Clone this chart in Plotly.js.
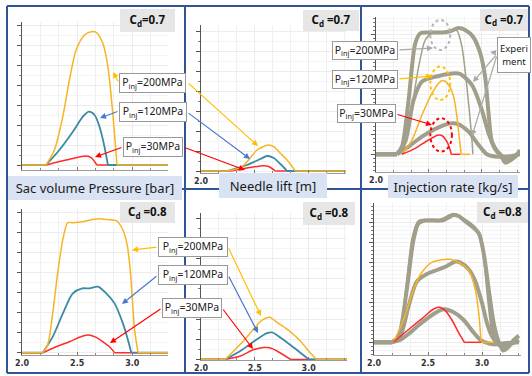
<!DOCTYPE html>
<html><head><meta charset="utf-8">
<script src="https://cdn.plot.ly/plotly-3.0.1.min.js"></script>
<style>html,body{margin:0;padding:0;background:#fff}#chart{width:532px;height:376px}</style>
</head><body><div id="chart"></div>
<script>
// ---- data (time [ms] vs. relative amplitude) ----
const xTickVals = [2.0, 2.5, 3.0];
const xTickText = ['2.0', '2.5', '3.0'];
const xTickTextTop = ['2.0', '', ''];
const pLabels = ['P<sub>inj</sub>=200MPa', 'P<sub>inj</sub>=120MPa', 'P<sub>inj</sub>=30MPa'];
const panelTitles = ['Sac volume Pressure [bar]', 'Needle lift [m]', 'Injection rate [kg/s]'];
const cdLabels = ['C<sub>d</sub>=0.7', 'C<sub>d</sub> =0.7', 'C<sub>d</sub> =0.7', 'C<sub>d</sub> =0.8', 'C<sub>d</sub> =0.8', 'C<sub>d</sub> =0.8'];
const expLabel = 'Experi<br>ment';

// top-left: sac pressure, Cd 0.7
const tl_t_200 = [2.0, 2.218, 2.294, 2.37, 2.43, 2.491, 2.567, 2.627, 2.673, 2.733, 2.779, 2.809, 2.839, 2.861, 3.324];
const tl_v_200 = [0, 0, 15, 48.3, 85, 115, 130, 133.3, 132.7, 121.7, 98.3, 68.3, 31.7, 0, 0];
const tl_t_120 = [2.0, 2.218, 2.339, 2.461, 2.552, 2.606, 2.658, 2.703, 2.748, 2.779, 3.324];
const tl_v_120 = [0, 0, 15, 33.3, 48.3, 53.3, 50, 38.3, 18.3, 0, 0];
const tl_t_30 = [2.0, 2.218, 2.4, 2.582, 2.627, 2.679, 3.324];
const tl_v_30 = [0, 0, 5, 9, 7.3, 0, 0];

// top-middle: needle lift, Cd 0.7
const tm_t_200 = [2.0, 2.241, 2.381, 2.52, 2.598, 2.628, 2.675, 2.737, 2.799, 2.876, 3.346];
const tm_v_200 = [0, 0, 4.3, 21, 25.3, 26, 24.3, 17.7, 11, 0, 0];
const tm_t_120 = [2.0, 2.241, 2.427, 2.551, 2.613, 2.675, 2.737, 2.799, 3.346];
const tm_v_120 = [0, 0, 6, 12, 15, 13, 7, 0, 0];
const tm_t_30 = [2.0, 2.272, 2.427, 2.582, 2.628, 2.69, 3.346];
const tm_v_30 = [0, 0, 3, 5.3, 4.5, 0, 0];

// top-right: injection rate, Cd 0.7
const tr_t_exp200 = [2.0, 2.198, 2.245, 2.308, 2.371, 2.418, 2.528, 2.654, 2.717, 2.777, 2.843, 2.918, 2.984, 3.031, 3.06, 3.097, 3.142, 3.173, 3.22, 3.267, 3.314, 3.36];
const tr_v_exp200 = [0, 0, 7.7, 54.3, 111, 121, 121.7, 122, 123.7, 126.3, 124.3, 117.3, 101.3, 77.3, 44.3, 11.3, 2.7, 0, -8.3, -6.3, -2.3, 4.3];
const tr_t_exp120 = [2.0, 2.198, 2.277, 2.355, 2.434, 2.591, 2.748, 2.796, 2.906, 3.0, 3.063, 3.126, 3.189, 3.252, 3.314, 3.36];
const tr_v_exp120 = [0, 0, 12.7, 54.3, 72.7, 78.3, 81, 80.3, 69.3, 44.3, 21, 6, -1.7, -5, -2.3, 2.7];
const tr_t_exp30 = [2.0, 2.198, 2.308, 2.434, 2.591, 2.717, 2.78, 2.874, 2.969, 3.047, 3.126, 3.204, 3.283, 3.36];
const tr_v_exp30 = [0, 0, 7.7, 17.7, 27, 31, 30, 22.7, 9.3, 0, -2.3, -2.3, -1.7, 0];
const tr_t_sim200 = [2.214, 2.277, 2.34, 2.403, 2.465, 2.528, 2.623, 2.717, 2.764, 2.811, 2.858, 2.906, 2.915];
const tr_v_sim200 = [0, 14.3, 47.7, 87.7, 114.3, 121, 122, 123.7, 123.7, 107.7, 67.7, 14.3, 0];
const tr_t_sim120 = [2.245, 2.34, 2.434, 2.528, 2.607, 2.638, 2.686, 2.733, 2.764, 2.789, 2.805, 2.89];
const tr_v_sim120 = [0, 14.3, 39.3, 61, 72.7, 73.7, 69.3, 57.7, 37.7, 14.3, 0, 0];
const tr_t_sim30 = [2.245, 2.371, 2.497, 2.591, 2.629, 2.67, 2.701, 2.711, 2.796];
const tr_v_sim30 = [0, 6, 14.3, 19.3, 18.3, 12.7, 4.3, 0, 0];

// bottom-left: sac pressure, Cd 0.8
const bl_t_200 = [2.0, 2.188, 2.233, 2.279, 2.324, 2.37, 2.415, 2.461, 2.552, 2.642, 2.703, 2.794, 2.855, 2.915, 2.955, 2.982, 3.0, 3.021, 3.052, 3.324];
const bl_v_200 = [0, 0, 8, 40, 80, 113, 130, 130, 131, 133.3, 134, 132.7, 132, 122.7, 107, 82, 55, 23, 0, 0];
const bl_t_120 = [2.0, 2.188, 2.279, 2.37, 2.461, 2.545, 2.612, 2.688, 2.764, 2.839, 2.915, 2.961, 2.991, 3.324];
const bl_v_120 = [0, 0, 16, 39, 59.3, 64.3, 64.3, 66, 59.3, 49.3, 29.3, 12.7, 0, 0];
const bl_t_30 = [2.0, 2.188, 2.309, 2.43, 2.552, 2.606, 2.673, 2.733, 2.794, 2.839, 3.324];
const bl_v_30 = [0, 0, 6, 11, 16.7, 17.7, 15.3, 11, 6, 0, 0];

// bottom-middle: needle lift, Cd 0.8
const bm_t_200 = [2.0, 2.226, 2.365, 2.489, 2.567, 2.638, 2.706, 2.799, 2.923, 3.0, 3.071, 3.356];
const bm_v_200 = [0, 0, 15, 30, 39, 41.7, 36.7, 30, 18.3, 8.3, 0, 0];
const bm_t_120 = [2.0, 2.226, 2.365, 2.52, 2.613, 2.659, 2.737, 2.861, 3.0, 3.356];
const bm_v_120 = [0, 0, 8.3, 20, 26, 26.7, 21.7, 11.7, 0, 0];
const bm_t_30 = [2.0, 2.226, 2.365, 2.474, 2.582, 2.628, 2.706, 2.83, 3.356];
const bm_v_30 = [0, 0, 3.3, 9, 11.7, 11.7, 8.3, 0, 0];

// bottom-right: injection rate, Cd 0.8
const br_t_exp200 = [2.0, 2.164, 2.226, 2.303, 2.365, 2.412, 2.474, 2.613, 2.659, 2.737, 2.783, 2.83, 2.907, 2.969, 3.015, 3.062, 3.108, 3.155, 3.195, 3.232, 3.294, 3.341];
const br_v_exp200 = [0, 0, 5.7, 52.3, 102.3, 119, 121.7, 121.7, 123, 127.3, 126.3, 122.3, 115.7, 109, 89, 52.3, 19, 0, -8.3, -6, 2.3, 6.7];
const br_t_exp120 = [2.0, 2.164, 2.241, 2.319, 2.396, 2.489, 2.582, 2.675, 2.752, 2.799, 2.876, 2.938, 3.0, 3.046, 3.093, 3.139, 3.186, 3.248, 3.341];
const br_v_exp120 = [0, 0, 5.7, 35.7, 60.7, 68.3, 72.3, 76.3, 80.7, 79.7, 73, 60.7, 39, 19, 5.7, -1, -4.3, -2.7, 2.3];
const br_t_exp30 = [2.0, 2.164, 2.241, 2.319, 2.427, 2.551, 2.644, 2.737, 2.83, 2.907, 2.985, 3.031, 3.108, 3.201, 3.341];
const br_v_exp30 = [0, 0, 2.3, 8.3, 18.3, 28.3, 33, 30, 22.3, 11.7, 2.3, 0, -2, -1, 0];
const br_t_sim200 = [2.18, 2.241, 2.303, 2.359, 2.412, 2.489, 2.613, 2.737, 2.83, 2.923, 2.978, 3.022, 3.053, 3.093, 3.124];
const br_v_sim200 = [0, 9, 55.7, 104, 120.7, 122.3, 122.3, 128, 123, 115.7, 107.3, 82.3, 49, 12.3, 0];
const br_t_sim120 = [2.18, 2.272, 2.365, 2.427, 2.52, 2.613, 2.706, 2.799, 2.876, 2.938, 2.969, 2.991, 3.108];
const br_v_sim120 = [0, 22.3, 52.3, 67.3, 79, 82.3, 83, 79, 72.3, 52.3, 29, 0, 0];
const br_t_sim30 = [2.18, 2.334, 2.458, 2.551, 2.607, 2.659, 2.721, 2.783, 2.836, 2.991];
const br_v_sim30 = [0, 14, 25, 33.3, 35, 31.7, 22.3, 9.7, 0, 0];

// ---- styling / layout ----
const W = 532, H = 376;
const C_OR = '#f8b322', C_TE = '#3a8aa3', C_RD = '#ff2b2b', C_GR = '#a19f8b';
const A_OR = '#ffc000', A_BL = '#4a78cf', A_RD = '#ff0000';
const FONT = 'Noto Sans';

const panels = [
  {xd: [22, 168], yd: [22, 170], xr: [2.0, 3.324], yr: [-5, 143], mdt: 10, lab: null},
  {xd: [201, 346], yd: [25, 173], xr: [2.0, 3.346], yr: [-2, 146], mdt: 10, lab: xTickTextTop},
  {xd: [376, 520], yd: [17, 172], xr: [2.0, 3.36], yr: [-17.7, 137.3], mdt: 4, lab: xTickTextTop},
  {xd: [22, 168], yd: [209, 355], xr: [2.0, 3.324], yr: [-2.3, 143.7], mdt: 10, lab: xTickText},
  {xd: [201, 347], yd: [213, 360], xr: [2.0, 3.356], yr: [-0.6, 145], mdt: 10, lab: xTickText},
  {xd: [374, 521], yd: [203, 355], xr: [2.0, 3.36], yr: [-12.7, 139.3], mdt: 4, lab: xTickText}
];

const traces = [];
function addCurve(p, t, v, color, width, flatL, flatR) {
  const xa = p === 1 ? 'x' : 'x' + p, ya = p === 1 ? 'y' : 'y' + p;
  const n = t.length;
  const s = flatL ? 1 : 0, e = flatR ? n - 2 : n - 1;
  const base = {mode: 'lines', xaxis: xa, yaxis: ya, hoverinfo: 'skip', showlegend: false};
  if (flatL) traces.push(Object.assign({}, base, {x: t.slice(0, 2), y: v.slice(0, 2), line: {color, width}}));
  traces.push(Object.assign({}, base, {x: t.slice(s, e + 1), y: v.slice(s, e + 1), line: {color, width, shape: 'spline', smoothing: 0.8}}));
  if (flatR) traces.push(Object.assign({}, base, {x: t.slice(e), y: v.slice(e), line: {color, width}}));
}
addCurve(1, tl_t_30, tl_v_30, C_RD, 1.5, true, true);
addCurve(1, tl_t_120, tl_v_120, C_TE, 1.8, true, true);
addCurve(1, tl_t_200, tl_v_200, C_OR, 1.5, true, true);
addCurve(2, tm_t_30, tm_v_30, C_RD, 1.5, true, true);
addCurve(2, tm_t_120, tm_v_120, C_TE, 1.8, true, true);
addCurve(2, tm_t_200, tm_v_200, C_OR, 1.5, true, true);
addCurve(3, tr_t_exp30, tr_v_exp30, C_GR, 4, true, false);
addCurve(3, tr_t_exp120, tr_v_exp120, C_GR, 4, true, false);
addCurve(3, tr_t_exp200, tr_v_exp200, C_GR, 4, true, false);
addCurve(3, tr_t_sim200, tr_v_sim200, C_GR, 1.5, false, false);
addCurve(3, tr_t_sim120, tr_v_sim120, C_OR, 1.5, false, true);
addCurve(3, tr_t_sim30, tr_v_sim30, C_RD, 1.5, false, true);
addCurve(4, bl_t_30, bl_v_30, C_RD, 1.5, true, true);
addCurve(4, bl_t_120, bl_v_120, C_TE, 1.8, true, true);
addCurve(4, bl_t_200, bl_v_200, C_OR, 1.5, true, true);
addCurve(5, bm_t_30, bm_v_30, C_RD, 1.5, true, true);
addCurve(5, bm_t_120, bm_v_120, C_TE, 1.8, true, true);
addCurve(5, bm_t_200, bm_v_200, C_OR, 1.5, true, true);
addCurve(6, br_t_exp30, br_v_exp30, C_GR, 4, true, false);
addCurve(6, br_t_exp120, br_v_exp120, C_GR, 4, true, false);
addCurve(6, br_t_exp200, br_v_exp200, C_GR, 4, true, false);
addCurve(6, br_t_sim200, br_v_sim200, C_GR, 3, false, false);
addCurve(6, br_t_sim120, br_v_sim120, C_OR, 1.5, false, true);
addCurve(6, br_t_sim30, br_v_sim30, C_RD, 1.5, false, true);

const layout = {
  width: W, height: H, margin: {l: 0, r: 0, t: 0, b: 0, pad: 0},
  paper_bgcolor: '#ffffff', plot_bgcolor: '#ffffff', showlegend: false,
  font: {family: FONT, color: '#222'},
  shapes: [], annotations: []
};
panels.forEach((p, i) => {
  const k = i === 0 ? '' : String(i + 1);
  layout['xaxis' + k] = {
    domain: [p.xd[0] / W, p.xd[1] / W], range: p.xr, anchor: 'y' + k,
    tickmode: 'array', tickvals: xTickVals, ticktext: p.lab || xTickText, showticklabels: !!p.lab,
    ticks: 'inside', ticklen: 3, tickcolor: '#777', tickwidth: 1,
    tickfont: {size: 8, color: '#333', family: 'DejaVu Sans', weight: 'bold'},
    showline: true, linecolor: '#9a9a9a', linewidth: 1, showgrid: true, gridcolor: '#ececec',
    zeroline: false, fixedrange: true,
    minor: {tick0: 2.0, dtick: 1 / 6, ticks: 'inside', ticklen: 2, tickcolor: '#888', showgrid: true, gridcolor: '#f0f0f0'}
  };
  layout['yaxis' + k] = {
    domain: [1 - p.yd[1] / H, 1 - p.yd[0] / H], range: p.yr, anchor: 'x' + k,
    showticklabels: false, ticks: 'outside', ticklen: 4, tickcolor: '#555', tick0: 0, dtick: 20,
    showline: true, linecolor: '#555', linewidth: 1, showgrid: true, gridcolor: '#ececec',
    zeroline: false, fixedrange: true,
    minor: {dtick: p.mdt, ticks: 'outside', ticklen: 2, tickcolor: '#777', showgrid: true, gridcolor: '#f4f4f4'}
  };
});

// frame
const FR = '#2f5597';
function ln(x0, y0, x1, y1) {
  layout.shapes.push({type: 'line', xref: 'paper', yref: 'paper', x0: x0 / W, x1: x1 / W, y0: 1 - y0 / H, y1: 1 - y1 / H, line: {color: FR, width: 2}, layer: 'above'});
}
ln(7, 6, 529, 6); ln(7, 373, 529, 373); ln(7, 6, 7, 373); ln(529, 6, 529, 373);
ln(185, 6, 185, 373); ln(361, 6, 361, 373); ln(7, 189, 529, 189);

// dotted ellipses in panel 3
function ell(x0, x1, y0, y1, c) {
  layout.shapes.push({type: 'circle', xref: 'x3', yref: 'y3', x0, x1, y0, y1, line: {color: c, width: 2, dash: 'dot'}, layer: 'above'});
}
ell(2.513, 2.701, 104.3, 134.3, '#b5b5b5');
ell(2.513, 2.701, 54.3, 87.7, '#ffc000');
ell(2.513, 2.717, 2.7, 36, '#ff0000');

// arrows (head px, tail px)
function arrow(hx, hy, tx, ty, c) {
  layout.annotations.push({x: hx / W, y: 1 - hy / H, xref: 'paper', yref: 'paper', ax: tx - hx, ay: ty - hy,
    axref: 'pixel', ayref: 'pixel', text: '', showarrow: true, arrowhead: 2, arrowsize: 1, arrowwidth: 1.2, arrowcolor: c});
}
arrow(113, 72, 119, 83, A_OR); arrow(258, 146, 187, 82, A_OR);
arrow(100, 118, 119, 111, A_BL); arrow(250, 159, 187, 112, A_BL);
arrow(95, 157, 123, 147, A_RD); arrow(245, 170, 183, 147, A_RD);
arrow(132, 250, 158, 247, A_OR); arrow(261, 316, 228, 247, A_OR);
arrow(122, 304, 158, 275, A_BL); arrow(258, 333, 228, 275, A_BL);
arrow(110, 343, 162, 308, A_RD); arrow(253, 349, 222, 308, A_RD);
arrow(433, 48, 398, 50, '#aaaaaa'); arrow(432, 76, 398, 79, A_OR); arrow(432, 125, 396, 114, A_RD);
arrow(490, 52, 497, 53, '#aaaaaa'); arrow(473, 82, 497, 54, '#aaaaaa'); arrow(472, 136, 497, 55, '#aaaaaa');

// boxes
function box(x0, x1, y0, y1, text, bg, border, font) {
  const pad = 1, bw = border ? 1 : 0;
  layout.annotations.push({x: (x0 + x1) / 2 / W, y: 1 - (y0 + y1) / 2 / H, xref: 'paper', yref: 'paper',
    xanchor: 'center', yanchor: 'middle', showarrow: false, text,
    width: x1 - x0 - 2 * pad - 2 * bw, height: y1 - y0 - 2 * pad - 2 * bw, align: 'center', valign: 'middle',
    bgcolor: bg, bordercolor: border || bg, borderwidth: bw, borderpad: pad, font});
}
const fL = {family: FONT, size: 10.5, color: '#222'};
box(119, 186, 73, 93, pLabels[0], '#ffffff', '#999999', fL);
box(119, 187, 102, 122, pLabels[1], '#ffffff', '#999999', fL);
box(123, 183, 137, 157, pLabels[2], '#ffffff', '#999999', fL);
box(332, 398, 41, 60, pLabels[0], '#ffffff', '#999999', fL);
box(332, 398, 70, 89, pLabels[1], '#ffffff', '#999999', fL);
box(337, 396, 104, 123, pLabels[2], '#ffffff', '#999999', fL);
box(158, 228, 237, 257, pLabels[0], '#ffffff', '#999999', fL);
box(158, 228, 265, 285, pLabels[1], '#ffffff', '#999999', fL);
box(162, 222, 298, 318, pLabels[2], '#ffffff', '#999999', fL);
box(497, 531, 37, 73, expLabel, '#ffffff', '#999999', {family: FONT, size: 9.5, color: '#222'});

const fC = {family: FONT, size: 11.5, color: '#111', weight: 'bold'};
box(120, 175, 9, 32, cdLabels[0], '#e6e6e6', null, fC);
box(303, 359, 10, 31, cdLabels[1], '#e6e6e6', null, fC);
box(480, 528, 9, 31, cdLabels[2], '#e6e6e6', null, fC);
box(120, 175, 202, 223, cdLabels[3], '#e6e6e6', null, fC);
box(303, 355, 202, 225, cdLabels[4], '#e6e6e6', null, fC);
box(477, 528, 202, 223, cdLabels[5], '#e6e6e6', null, fC);

const fT = {family: FONT, size: 13, color: '#1a1a1a'};
box(8, 182, 176, 200, panelTitles[0], '#dae3f3', null, fT);
box(219, 327, 173, 198, panelTitles[1], '#dae3f3', null, fT);
box(388, 518, 175, 198, panelTitles[2], '#dae3f3', null, fT);

Plotly.newPlot('chart', traces, layout, {staticPlot: true, displayModeBar: false});
</script>
</body></html>
